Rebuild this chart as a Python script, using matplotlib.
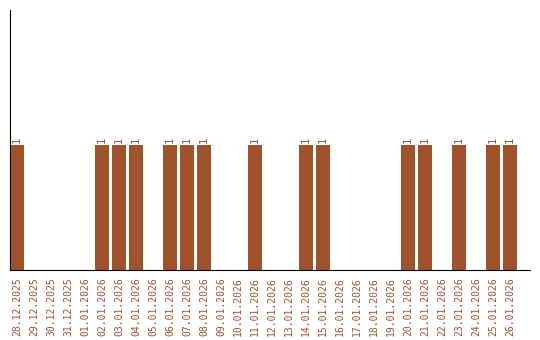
import matplotlib
matplotlib.use('Agg')
import matplotlib.pyplot as plt
import numpy as np

dates = ['28.12.2025', '29.12.2025', '30.12.2025', '31.12.2025', '01.01.2026',
         '02.01.2026', '03.01.2026', '04.01.2026', '05.01.2026', '06.01.2026',
         '07.01.2026', '08.01.2026', '09.01.2026', '10.01.2026', '11.01.2026',
         '12.01.2026', '13.01.2026', '14.01.2026', '15.01.2026', '16.01.2026',
         '17.01.2026', '18.01.2026', '19.01.2026', '20.01.2026', '21.01.2026',
         '22.01.2026', '23.01.2026', '24.01.2026', '25.01.2026', '26.01.2026']
counts = [1, 0, 0, 0, 0,
          1, 1, 1, 0, 1,
          1, 1, 0, 0, 1,
          0, 0, 1, 1, 0,
          0, 0, 0, 1, 1,
          0, 1, 0, 1, 1]

brown = '#a0522d'

fig = plt.figure(figsize=(5.4, 3.4), dpi=100)
ax = fig.add_axes([10/540, 70/340, 520/540, 260/340])

x = np.arange(len(dates))
ax.bar(x, counts, width=0.82, color=brown)

# labels above non-zero bars
for xi, c in zip(x, counts):
    if c:
        ax.text(xi, c + 0.015, str(c), rotation=90, ha='center', va='bottom',
                color=brown, fontsize=7.5, family='DejaVu Sans Mono')

ax.set_xlim(-0.41, 30.18)
ax.set_ylim(0, 2.08)
ax.set_xticks(x)
ax.set_xticklabels(dates, rotation=90, color=brown, fontsize=7, family='DejaVu Sans Mono')
ax.tick_params(axis='x', length=0, pad=5)
ax.set_yticks([])
ax.spines['top'].set_visible(False)
ax.spines['right'].set_visible(False)

fig.savefig('out.png', dpi=100)
